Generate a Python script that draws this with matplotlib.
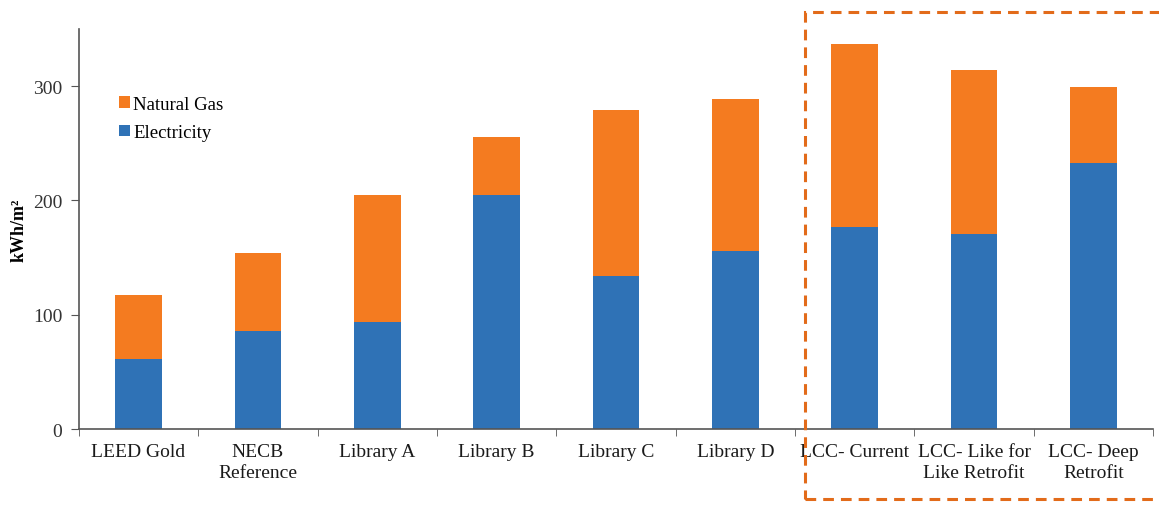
import matplotlib
matplotlib.use('Agg')
import matplotlib.pyplot as plt
import matplotlib.patches as patches
import numpy as np

categories = ['LEED Gold', 'NECB\nReference', 'Library A', 'Library B', 'Library C',
              'Library D', 'LCC- Current', 'LCC- Like for\nLike Retrofit', 'LCC- Deep\nRetrofit']
electricity = [61, 86, 94, 205, 134, 156, 177, 171, 233]
totals = [117, 154, 205, 255, 279, 289, 337, 314, 299]
natural_gas = [t - e for t, e in zip(totals, electricity)]

blue = '#2f72b6'
orange = '#f47b20'

plt.rcParams['font.family'] = ['Liberation Serif', 'DejaVu Serif']

fig = plt.figure(figsize=(11.59, 5.06), dpi=100)
ax = fig.add_axes([0.068, 0.150, 0.927, 0.791])

x = np.arange(len(categories))
ax.bar(x, electricity, width=0.39, color=blue, label='Electricity')
ax.bar(x, natural_gas, width=0.39, bottom=electricity, color=orange, label='Natural Gas')

ax.set_xlim(-0.5, len(categories) - 0.5)
ax.set_ylim(0, 350)
ax.set_yticks([0, 100, 200, 300])
ax.set_xticks(x)
ax.set_xticklabels(categories, fontsize=14, color='#1a1a1a', linespacing=1.3)
ax.set_xticks(np.arange(-0.5, len(categories)), minor=True)
ax.tick_params(axis='x', which='major', length=0, pad=10)
ax.tick_params(axis='x', which='minor', length=5, color='#555555', direction='out')
ax.tick_params(axis='y', length=6, color='#555555', labelsize=14, labelcolor='#333333', pad=6)

for s in ['top', 'right']:
    ax.spines[s].set_visible(False)
for s in ['left', 'bottom']:
    ax.spines[s].set_color('#555555')
    ax.spines[s].set_linewidth(1.2)

ax.set_ylabel('kWh/m²', fontsize=13, fontweight='bold', labelpad=4)

h, l = ax.get_legend_handles_labels()
ax.legend(h[::-1], l[::-1], loc='upper left', bbox_to_anchor=(0.022, 0.875), frameon=False,
          fontsize=13.5, handlelength=0.55, handleheight=0.55, handletextpad=0.2,
          labelspacing=0.6)

rect = patches.Rectangle((0.6946, 0.012), 0.32, 0.963, transform=fig.transFigure,
                         fill=False, edgecolor='#e26b1a', linewidth=2.2,
                         linestyle=(0, (3.5, 2.3)), clip_on=False)
fig.patches.append(rect)

fig.savefig('out.png', dpi=100)
